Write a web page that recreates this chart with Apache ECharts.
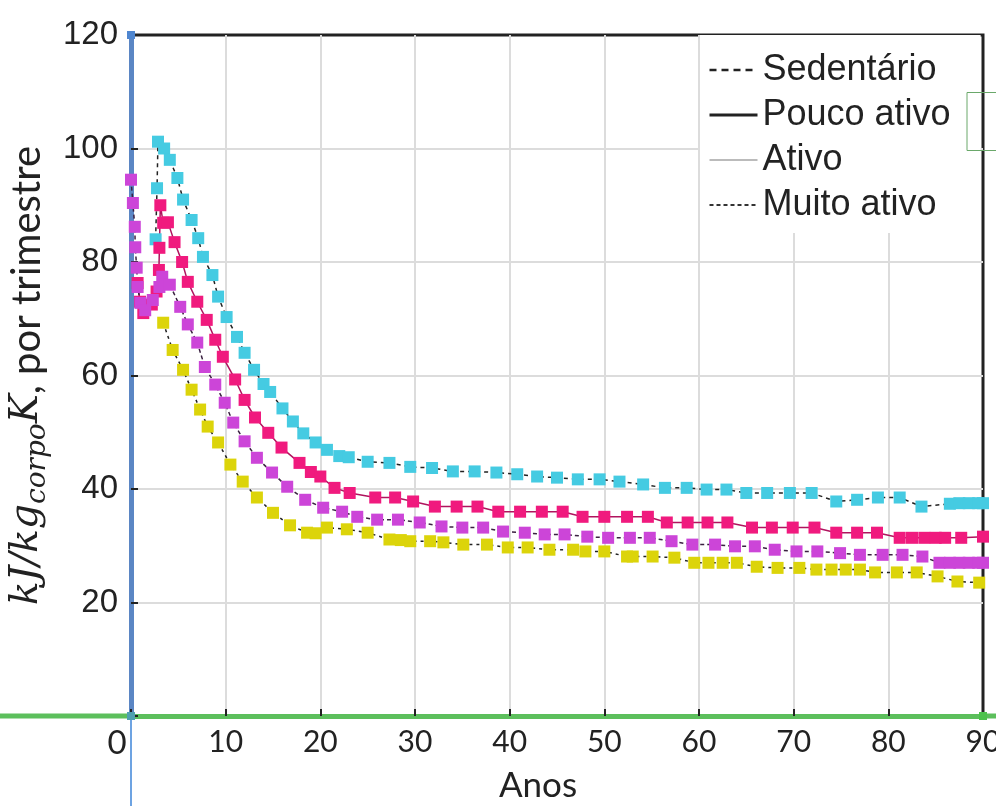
<!DOCTYPE html>
<html>
<head>
<meta charset="utf-8">
<script src="https://cdn.jsdelivr.net/npm/echarts@6/dist/echarts.min.js"></script>
<style>
html,body{margin:0;padding:0;background:#fff;overflow:hidden;}
#chart{width:996px;height:806px;}
</style>
</head>
<body>
<div id="chart"></div>
<script>
// ---- Data ----
const seriesNames = ['Sedentário', 'Pouco ativo', 'Ativo', 'Muito ativo'];
const xTicks = [0, 10, 20, 30, 40, 50, 60, 70, 80, 90];
const yTicks = [0, 20, 40, 60, 80, 100, 120];

// Sedentário (cyan)
const agesSed = [2.6, 2.75, 2.85, 3.5, 4.1, 4.9, 5.5, 6.4, 7.1, 7.6, 8.6, 9.2, 10.1, 11.2, 12.0, 13.0, 14.0, 14.7, 16.0, 17.1, 18.2, 19.5, 20.7, 22.0, 23.0, 25.0, 27.3, 29.5, 31.8, 34.0, 36.3, 38.6, 40.8, 42.9, 45.0, 47.2, 49.5, 51.6, 54.1, 56.4, 58.7, 60.8, 62.9, 65.0, 67.2, 69.6, 71.9, 74.5, 76.7, 78.9, 81.2, 83.5, 86.5, 87.5, 88.5, 89.5, 90.0];
const valsSed = [84, 93, 101.2, 100, 98, 94.8, 91, 87.4, 84.2, 80.9, 77.7, 73.9, 70.3, 66.8, 64, 61, 58.5, 57.1, 54.2, 51.9, 49.8, 48.2, 46.9, 45.8, 45.6, 44.8, 44.6, 43.9, 43.7, 43.1, 43.1, 42.9, 42.6, 42.2, 42, 41.7, 41.7, 41.3, 40.8, 40.2, 40.2, 39.9, 39.9, 39.3, 39.3, 39.3, 39.3, 37.8, 38.1, 38.5, 38.5, 36.9, 37.4, 37.5, 37.5, 37.5, 37.5];

// Pouco ativo (pink)
const agesPouco = [0.7, 0.95, 1.3, 2.2, 2.7, 2.95, 3.0, 3.1, 3.4, 3.9, 4.6, 5.4, 6.0, 7.0, 8.0, 8.9, 9.7, 11.0, 12.0, 13.1, 14.5, 15.9, 17.8, 19.0, 20.0, 21.5, 23.1, 25.8, 27.9, 29.8, 32.1, 34.4, 36.6, 38.8, 41.1, 43.4, 45.6, 47.7, 50.0, 52.4, 54.6, 56.6, 58.8, 60.9, 63.0, 65.6, 67.7, 69.9, 72.2, 74.5, 76.7, 78.8, 81.2, 82.5, 83.8, 85.0, 86.0, 87.7, 90.0];
const valsPouco = [76.3, 73, 71, 72.5, 74.8, 78.6, 82.5, 90, 86.9, 87, 83.5, 80, 76.5, 73, 69.8, 66.3, 63.3, 59.3, 55.7, 52.6, 49.9, 47.3, 44.6, 43, 42.2, 40.2, 39.3, 38.5, 38.5, 37.8, 36.9, 36.9, 36.9, 36, 36, 36, 36, 35.1, 35.1, 35.1, 35.1, 34.1, 34.1, 34.1, 34.1, 33.2, 33.2, 33.2, 33.2, 32.3, 32.3, 32.3, 31.4, 31.4, 31.4, 31.4, 31.4, 31.4, 31.6];

// Ativo (purple)
const agesAtivo = [0.0, 0.2, 0.4, 0.45, 0.6, 0.7, 1.0, 1.5, 2.3, 3.0, 3.3, 4.1, 5.2, 6.0, 7.0, 7.8, 8.9, 9.9, 10.8, 12.0, 13.3, 14.9, 16.5, 18.4, 20.3, 22.3, 23.9, 26.0, 28.2, 30.5, 32.8, 35.0, 37.2, 39.3, 41.6, 43.7, 45.8, 48.2, 50.4, 52.7, 54.8, 57.1, 59.3, 61.7, 63.8, 65.9, 68.0, 70.3, 72.5, 74.9, 77.0, 79.4, 81.5, 83.6, 85.4, 86.5, 87.5, 88.5, 89.5, 90.0];
const valsAtivo = [94.5, 90.4, 86.2, 82.6, 79, 75.6, 72.8, 71.5, 73.3, 75.6, 77.4, 76, 72.1, 69, 65.8, 61.5, 58.4, 55.2, 51.7, 48.4, 45.5, 42.9, 40.4, 38.1, 36.7, 36, 35.1, 34.6, 34.6, 34.1, 33.4, 33.2, 33.2, 32.5, 32.3, 32, 32, 31.6, 31.4, 31.4, 31.4, 30.8, 30.2, 30.2, 29.9, 29.9, 29.3, 29, 29, 28.7, 28.4, 28.4, 28.4, 28.1, 27, 27, 27, 27, 27, 27];

// Muito ativo (yellow)
const agesMuito = [3.4, 4.4, 5.5, 6.4, 7.3, 8.1, 9.2, 10.5, 11.8, 13.3, 15.0, 16.8, 18.6, 19.5, 20.7, 22.8, 25.0, 27.3, 28.5, 29.5, 31.6, 33.0, 35.1, 37.6, 39.8, 41.9, 44.2, 46.7, 48.0, 50.0, 52.4, 53.0, 55.1, 57.4, 59.5, 61.0, 62.5, 64.0, 66.1, 68.3, 70.6, 72.4, 74.0, 75.5, 77.0, 78.6, 80.9, 83.0, 85.2, 87.3, 89.6];
const valsMuito = [69.3, 64.5, 61, 57.5, 54, 51, 48.2, 44.3, 41.3, 38.5, 35.8, 33.6, 32.3, 32.2, 33.2, 32.9, 32.3, 31.1, 31, 30.8, 30.8, 30.6, 30.2, 30.2, 29.7, 29.7, 29.3, 29.3, 29, 29, 28.1, 28.1, 28.1, 27.9, 27, 27, 27, 27, 26.3, 26.1, 26.1, 25.8, 25.8, 25.8, 25.8, 25.3, 25.3, 25.3, 24.6, 23.7, 23.5];

function pairs(xs, ys) { return xs.map((x, i) => [x, ys[i]]); }

const chart = echarts.init(document.getElementById('chart'), null, {renderer: 'canvas'});

const tickFont = 'Liberation Sans, Arial, sans-serif';
const humanFont = 'Lato, Open Sans, sans-serif';

function lineSeries(name, data, color, lineStyle) {
  return {
    name: name,
    type: 'line',
    data: data,
    symbol: 'rect',
    symbolSize: 12,
    showAllSymbol: true,
    itemStyle: {color: color},
    lineStyle: lineStyle,
    emphasis: {disabled: true},
    animation: false,
    z: 3
  };
}

const option = {
  animation: false,
  backgroundColor: '#fff',
  grid: {
    left: 131, right: 13, top: 35, bottom: 90,
    containLabel: false, outerBoundsMode: 'none',
    show: true, borderColor: '#222', borderWidth: 3, backgroundColor: 'transparent'
  },
  legend: {
    orient: 'vertical',
    left: 700, top: 35,
    padding: [17, 30, 10, 8],
    backgroundColor: '#fff',
    itemWidth: 48, itemHeight: 14, itemGap: 9,
    textStyle: {fontFamily: tickFont, fontSize: 36, color: '#222'},
    data: [
      {name: 'Sedentário', itemStyle: {opacity: 0}, lineStyle: {color: '#222', type: [7, 5], width: 2.5}},
      {name: 'Pouco ativo', itemStyle: {opacity: 0}, lineStyle: {color: '#222', type: 'solid', width: 3}},
      {name: 'Ativo', itemStyle: {opacity: 0}, lineStyle: {color: '#bbb', type: 'solid', width: 2}},
      {name: 'Muito ativo', itemStyle: {opacity: 0}, lineStyle: {color: '#333', type: [4, 3], width: 2}}
    ]
  },
  xAxis: {
    type: 'value', min: 0, max: 90, interval: 10,
    name: 'Anos', nameLocation: 'middle', nameGap: 52,
    nameTextStyle: {fontFamily: humanFont, fontSize: 35, color: '#222', padding: [0, 38, 0, 0]},
    axisLine: {show: true, onZero: false, lineStyle: {color: '#5cbf5c', width: 5}},
    axisTick: {show: true, inside: true, length: 7, lineStyle: {color: '#222', width: 2}},
    axisLabel: {
      fontFamily: humanFont, fontSize: 30, color: '#222', margin: 11,
      formatter: function (v) { return v === 0 ? '{z|0}' : String(v); },
      rich: {z: {fontFamily: humanFont, fontSize: 33, color: '#222', padding: [0, 28, 0, 0]}}
    },
    splitLine: {show: true, showMinLine: false, showMaxLine: false, lineStyle: {color: '#dcdcdc', width: 2}}
  },
  yAxis: {
    type: 'value', min: 0, max: 120, interval: 20,
    name: '{m|kJ/kg}{s|corpo}{m|K}{n|, por trimestre}',
    nameLocation: 'middle', nameGap: 70, nameRotate: 90,
    nameTextStyle: {
      rich: {
        m: {fontFamily: 'DejaVu Serif, serif', fontStyle: 'italic', fontSize: 39, color: '#222'},
        s: {fontFamily: 'DejaVu Serif, serif', fontStyle: 'italic', fontSize: 28, color: '#222', padding: [22, 0, 0, 0]},
        n: {fontFamily: humanFont, fontSize: 40, color: '#222'}
      }
    },
    axisLine: {show: true, lineStyle: {color: '#5b86c4', width: 5}},
    axisTick: {show: true, inside: true, length: 7, lineStyle: {color: '#222', width: 2}},
    axisLabel: {
      fontFamily: tickFont, fontSize: 33, color: '#222', margin: 13,
      formatter: function (v) { return v === 0 ? '' : String(v); }
    },
    splitLine: {show: true, showMinLine: false, showMaxLine: false, lineStyle: {color: '#dcdcdc', width: 2}}
  },
  series: [
    lineSeries('Sedentário', pairs(agesSed, valsSed), '#45cbe2', {color: '#222', type: [4, 4], width: 1.5}),
    lineSeries('Pouco ativo', pairs(agesPouco, valsPouco), '#f01a7e', {color: '#b0145e', type: 'solid', width: 1.5}),
    lineSeries('Ativo', pairs(agesAtivo, valsAtivo), '#cc45d8', {color: '#3a2040', type: [4, 3], width: 1.5}),
    lineSeries('Muito ativo', pairs(agesMuito, valsMuito), '#dcd40a', {color: '#222', type: [3, 4], width: 1.5})
  ]
};
chart.setOption(option);

// decorative annotation strokes (positions derived from the axes)
const p00 = chart.convertToPixel({gridIndex: 0}, [0, 0]);
const p0top = chart.convertToPixel({gridIndex: 0}, [0, 120]);
const p90 = chart.convertToPixel({gridIndex: 0}, [90, 0]);
const p100 = chart.convertToPixel({gridIndex: 0}, [90, 100]);
chart.setOption({
  graphic: [
    {type: 'line', shape: {x1: p00[0], y1: p00[1], x2: p00[0], y2: 806}, style: {stroke: '#3d85d8', lineWidth: 1.5}, z: 10},
    {type: 'line', shape: {x1: 0, y1: p00[1], x2: p00[0], y2: p00[1]}, style: {stroke: '#5cbf5c', lineWidth: 5}, z: 10},
    {type: 'line', shape: {x1: p90[0], y1: p90[1], x2: 996, y2: p90[1]}, style: {stroke: '#5cbf5c', lineWidth: 5}, z: 10},
    {type: 'rect', shape: {x: p0top[0] - 4, y: p0top[1] - 4, width: 8, height: 8}, style: {fill: '#4f86d0'}, z: 11},
    {type: 'rect', shape: {x: p00[0] - 4, y: p00[1] - 4, width: 8, height: 8}, style: {fill: '#4fa0b0'}, z: 11},
    {type: 'rect', shape: {x: p90[0] - 4, y: p90[1] - 4, width: 8, height: 8}, style: {fill: '#4cc24c'}, z: 11},
    {type: 'rect', shape: {x: p100[0] - 16, y: p100[1] - 56, width: 40, height: 58}, style: {fill: 'none', stroke: '#6aa86a', lineWidth: 1}, z: 11}
  ]
});
</script>
</body>
</html>
